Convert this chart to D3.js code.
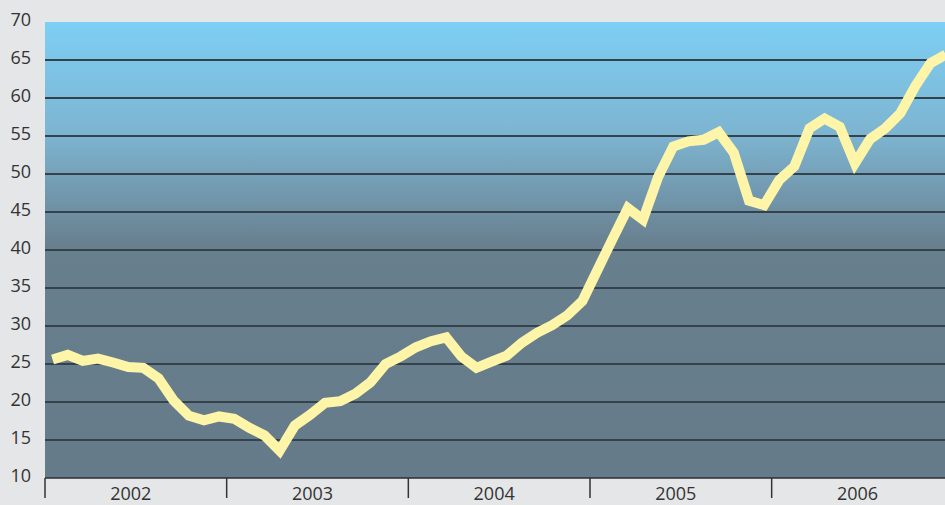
<!DOCTYPE html>
<html>
<head>
<meta charset="utf-8">
<script src="https://cdn.jsdelivr.net/npm/d3@7"></script>
<style>
  html, body { margin: 0; padding: 0; background: #e5e6e8; }
  svg { display: block; }
  text { font-family: "Open Sans", "Noto Sans", sans-serif; fill: #333; }
</style>
</head>
<body>
<svg id="chart" width="945" height="505"></svg>
<script>
// year labels on the x axis
const years = ['2002', '2003', '2004', '2005', '2006'];
// y axis ticks
const yTicks = [10, 15, 20, 25, 30, 35, 40, 45, 50, 55, 60, 65, 70];
// monthly values, Jan 2002 .. Dec 2006
const values = [
  25.6, 26.2, 25.4, 25.7, 25.2, 24.6, 24.5, 23.1, 20.2, 18.2, 17.6, 18.1,
  17.8, 16.6, 15.6, 13.6, 16.9, 18.3, 19.9, 20.1, 21.1, 22.6, 25.0, 26.0,
  27.2, 28.0, 28.5, 26.0, 24.5, 25.3, 26.1, 27.8, 29.1, 30.1, 31.4, 33.3,
  37.4, 41.5, 45.5, 44.0, 49.6, 53.6, 54.3, 54.5, 55.5, 52.8, 46.5, 45.9,
  49.2, 51.0, 56.0, 57.3, 56.2, 51.4, 54.6, 56.0, 58.0, 61.6, 64.6, 65.7
];

const margin = { left: 45, top: 22, right: 0, bottom: 27 };
const width = 945, height = 505;
const plotH = height - margin.top - margin.bottom;
const monthW = (width - margin.left) / 59.45;

const svg = d3.select('#chart');

const x = d3.scaleLinear()
  .domain([0, values.length])
  .range([margin.left, margin.left + monthW * values.length]);
const y = d3.scaleLinear()
  .domain([10, 70])
  .range([margin.top + plotH, margin.top]);

// background gradient
const defs = svg.append('defs');
const grad = defs.append('linearGradient')
  .attr('id', 'bg').attr('x1', 0).attr('y1', 0).attr('x2', 0).attr('y2', 1);
grad.append('stop').attr('offset', '0%').attr('stop-color', '#7dcff4');
grad.append('stop').attr('offset', '25%').attr('stop-color', '#7db4d0');
grad.append('stop').attr('offset', '49%').attr('stop-color', '#687f8e');
grad.append('stop').attr('offset', '100%').attr('stop-color', '#657b89');

defs.append('clipPath').attr('id', 'clip')
  .append('rect')
  .attr('x', margin.left).attr('y', margin.top)
  .attr('width', width - margin.left).attr('height', plotH);

svg.append('rect')
  .attr('x', margin.left).attr('y', margin.top)
  .attr('width', width - margin.left).attr('height', plotH)
  .attr('fill', 'url(#bg)');

// horizontal grid
svg.append('g')
  .selectAll('line')
  .data(yTicks.filter(d => d > 10 && d < 70))
  .join('line')
  .attr('x1', margin.left).attr('x2', width)
  .attr('y1', d => y(d)).attr('y2', d => y(d))
  .attr('stroke', '#34424c').attr('stroke-width', 2);

// y labels
svg.append('g')
  .selectAll('text')
  .data(yTicks)
  .join('text')
  .attr('x', 31)
  .attr('y', d => y(d))
  .attr('dy', '0.2em')
  .attr('text-anchor', 'end')
  .attr('font-size', 18)
  .text(d => d);

// x axis: baseline, year separators and labels
const axisY = y(10);
svg.append('line')
  .attr('x1', margin.left).attr('x2', width)
  .attr('y1', axisY).attr('y2', axisY)
  .attr('stroke', '#2b2f33').attr('stroke-width', 1.5);

svg.append('g')
  .selectAll('line')
  .data(years)
  .join('line')
  .attr('x1', (d, i) => x(i * 12)).attr('x2', (d, i) => x(i * 12))
  .attr('y1', axisY).attr('y2', axisY + 20)
  .attr('stroke', '#333').attr('stroke-width', 1.5);

svg.append('g')
  .selectAll('text')
  .data(years)
  .join('text')
  .attr('x', (d, i) => x(i * 12 + 6) - 5)
  .attr('y', axisY + 22)
  .attr('text-anchor', 'middle')
  .attr('font-size', 18)
  .text(d => d);

// the series
const line = d3.line()
  .x((d, i) => x(i + 0.5))
  .y(d => y(d));

svg.append('path')
  .datum(values)
  .attr('clip-path', 'url(#clip)')
  .attr('d', line)
  .attr('fill', 'none')
  .attr('stroke', '#fff5a9')
  .attr('stroke-width', 10)
  .attr('stroke-linejoin', 'miter')
  .attr('stroke-miterlimit', 4);
</script>
</body>
</html>
